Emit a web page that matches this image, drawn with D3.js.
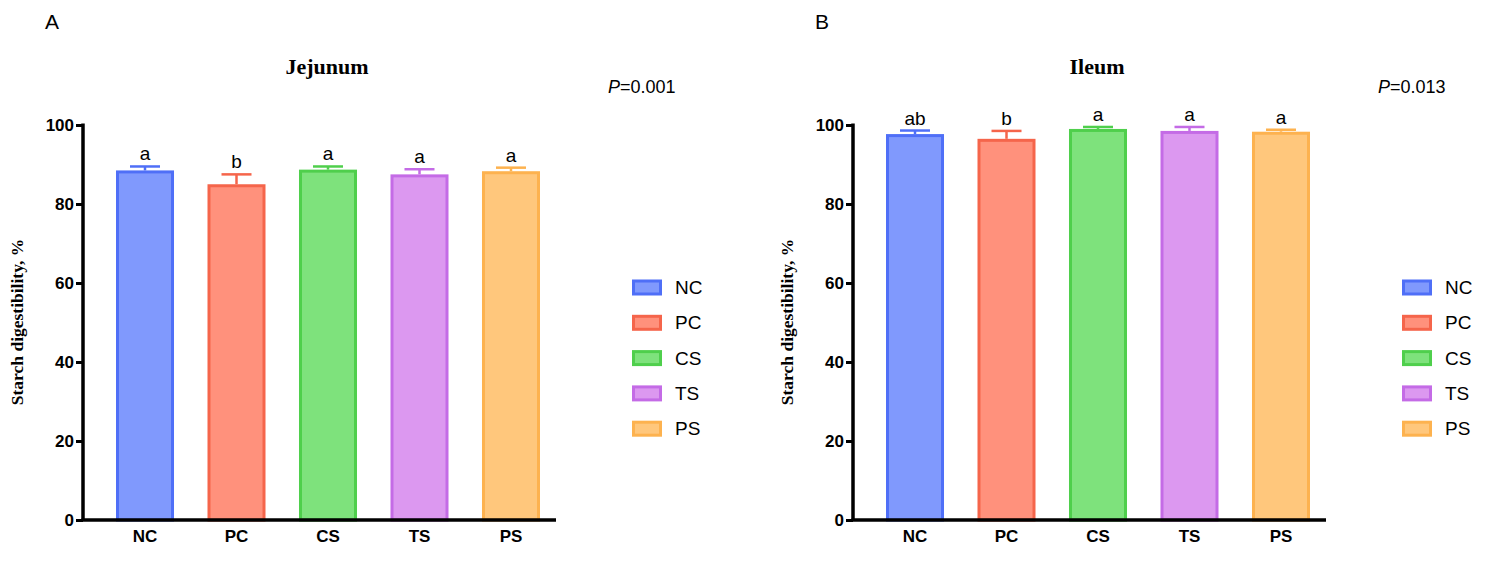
<!DOCTYPE html>
<html><head><meta charset="utf-8">
<script src="https://cdn.jsdelivr.net/npm/d3@7"></script>
<style>body{margin:0;background:#fff}</style></head>
<body><svg id="c" width="1485" height="561"></svg>
<script>
const groups = ['NC', 'PC', 'CS', 'TS', 'PS'];
const fills = ['#8099fd', '#ff917c', '#7ee27c', '#dc98f0', '#ffc77c'];
const strokes = ['#4f6ff7', '#f5654b', '#4fcf4c', '#c46be6', '#fdb24f'];
const yTicks = [0, 20, 40, 60, 80, 100];

const jejunumMean = [88.5, 85.0, 88.7, 87.5, 88.3];
const jejunumErr = [1.0, 2.5, 0.8, 1.3, 0.9];
const jejunumLetters = ['a', 'b', 'a', 'a', 'a'];

const ileumMean = [97.7, 96.5, 99.0, 98.5, 98.3];
const ileumErr = [0.9, 2.0, 0.5, 1.0, 0.5];
const ileumLetters = ['ab', 'b', 'a', 'a', 'a'];

const svg = d3.select('#c');
const sans = 'Liberation Sans, Arial';
const serif = 'Liberation Serif, Times New Roman';

function drawPanel(dx, letter, title, pText, means, errs, letters) {
  const g = svg.append('g').attr('transform', `translate(${dx},0)`);
  const y = d3.scaleLinear().domain([0, 100]).range([520, 125]);
  const x = d3.scaleBand().domain(groups).range([116, 540]).paddingInner(0.366).paddingOuter(0);

  g.append('text').attr('x', 45).attr('y', 29).attr('font-family', sans)
    .attr('font-size', 21).text(letter);
  g.append('text').attr('x', 327).attr('y', 74).attr('text-anchor', 'middle')
    .attr('font-family', serif).attr('font-weight', 'bold')
    .attr('font-size', 22).text(title);
  const pt = g.append('text').attr('x', 608).attr('y', 93).attr('font-family', sans)
    .attr('font-size', 18);
  pt.append('tspan').attr('font-style', 'italic').text('P');
  pt.append('tspan').text('=' + pText);

  g.append('text').attr('transform', 'translate(23,322) rotate(-90)').attr('text-anchor', 'middle')
    .attr('font-family', serif).attr('font-weight', 'bold')
    .attr('font-size', 17.5).text('Starch digestibility, %');

  groups.forEach((k, i) => {
    const cx = x(k) + x.bandwidth() / 2;
    const top = y(means[i] + errs[i]);
    g.append('line').attr('x1', cx).attr('x2', cx).attr('y1', y(means[i])).attr('y2', top)
      .attr('stroke', strokes[i]).attr('stroke-width', 2.5);
    g.append('line').attr('x1', cx - 15).attr('x2', cx + 15).attr('y1', top).attr('y2', top)
      .attr('stroke', strokes[i]).attr('stroke-width', 2.5);
    g.append('rect').attr('x', x(k) + 1.5).attr('width', x.bandwidth() - 3)
      .attr('y', y(means[i]) + 1.5).attr('height', y(0) - y(means[i]) - 1.5)
      .attr('fill', fills[i]).attr('stroke', strokes[i]).attr('stroke-width', 3);
    g.append('text').attr('x', cx).attr('y', top - 6).attr('text-anchor', 'middle')
      .attr('font-family', sans).attr('font-size', 19).text(letters[i]);
  });

  const ya = g.append('g').attr('transform', 'translate(83,0)')
    .call(d3.axisLeft(y).tickValues(yTicks).tickSize(7).tickPadding(2));
  ya.select('.domain').attr('stroke-width', 3.5).attr('d', 'M0,520V123.5');
  ya.selectAll('.tick line').attr('stroke-width', 3);
  ya.selectAll('text').attr('font-family', sans).attr('font-weight', 'bold').attr('font-size', 17);

  const xa = g.append('g').attr('transform', 'translate(0,520)')
    .call(d3.axisBottom(x).tickSize(0).tickPadding(10));
  xa.select('.domain').attr('stroke-width', 3.5).attr('d', 'M81.5,0H556');
  xa.selectAll('text').attr('font-family', sans).attr('font-weight', 'bold').attr('font-size', 17);

  const lg = g.append('g').attr('transform', 'translate(632,287)');
  groups.forEach((k, i) => {
    const yy = i * 35.3;
    lg.append('rect').attr('x', 1.5).attr('y', yy - 6).attr('width', 27).attr('height', 13)
      .attr('fill', fills[i]).attr('stroke', strokes[i]).attr('stroke-width', 3);
    lg.append('text').attr('x', 43).attr('y', yy + 7).attr('font-family', sans)
      .attr('font-size', 19).text(k);
  });
}

drawPanel(0, 'A', 'Jejunum', '0.001', jejunumMean, jejunumErr, jejunumLetters);
drawPanel(770, 'B', 'Ileum', '0.013', ileumMean, ileumErr, ileumLetters);
</script></body></html>
